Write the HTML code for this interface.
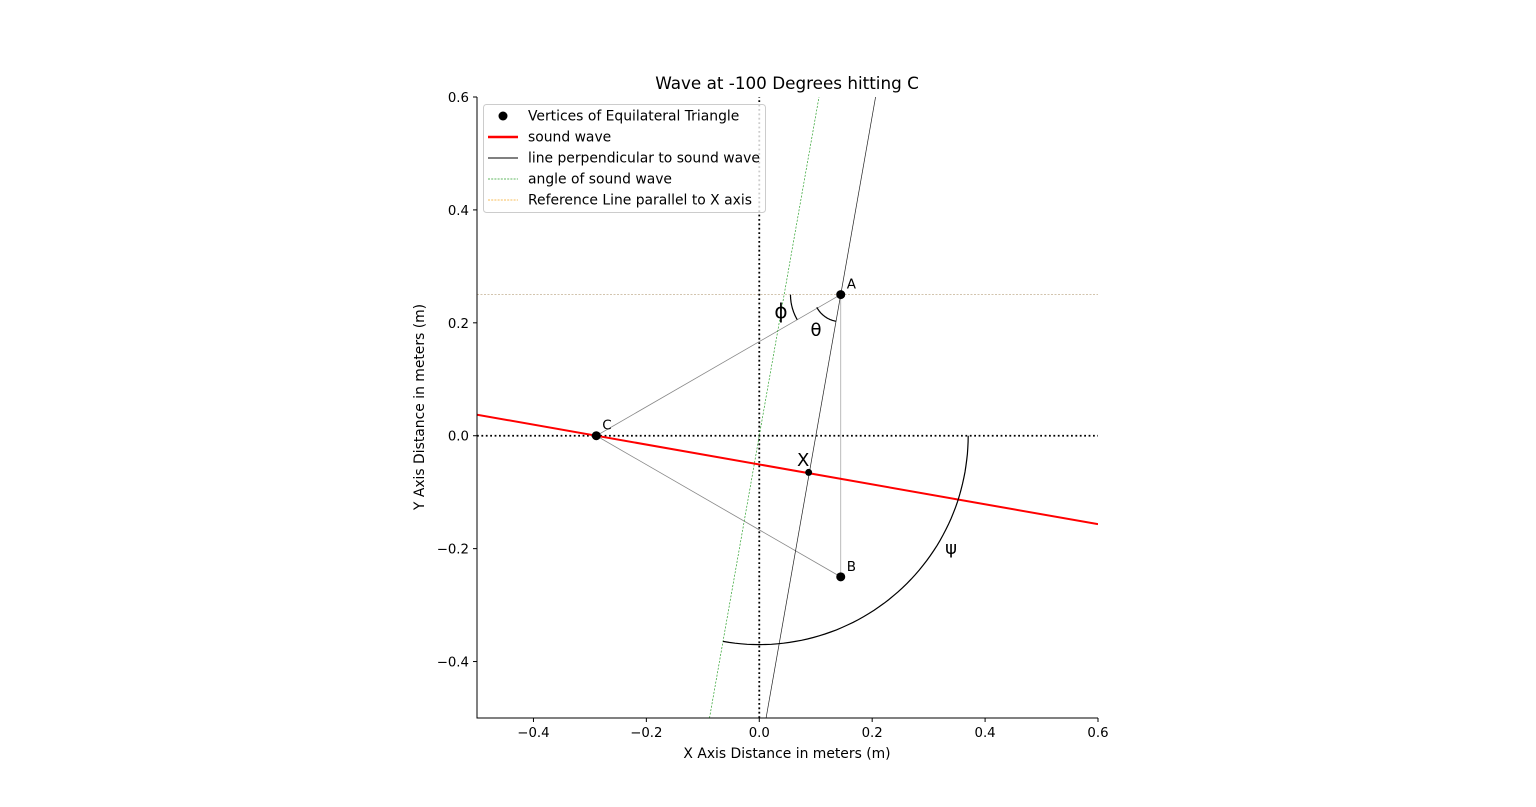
<!DOCTYPE html>
<html><head><meta charset="utf-8"><style>
body{margin:0;background:#fff;}
svg{display:block;font-family:"DejaVu Sans","Liberation Sans",sans-serif;}
</style></head><body>
<svg id="chart" width="1536" height="807">
</svg>
<script>
const xTicks=[-0.4,-0.2,0.0,0.2,0.4,0.6];
const yTicks=[-0.4,-0.2,0.0,0.2,0.4,0.6];
const vertexNames=["A","B","C"];
const vertexX=[0.1443,0.1443,-0.2887];
const vertexY=[0.25,-0.25,0];
const waveAngleDeg=[-10];
const intersectX=[0.0875];
const intersectY=[-0.065];
const psiRadius=[0.37];
const x0=477,x1=1098,y0=718,y1=97,xmin=-0.5,xmax=0.6,ymin=-0.5,ymax=0.6;
const sx=v=>x0+(v-xmin)/(xmax-xmin)*(x1-x0);
const sy=v=>y0-(v-ymin)/(ymax-ymin)*(y0-y1);
const svg=document.getElementById('chart');
const NS="http://www.w3.org/2000/svg";
function mk(tag,attrs,parent){const e=document.createElementNS(NS,tag);for(const k in attrs)e.setAttribute(k,attrs[k]);(parent||svg).appendChild(e);return e;}
const defs=mk('defs',{});const cp=mk('clipPath',{id:'c'},defs);mk('rect',{x:x0,y:y1,width:x1-x0,height:y0-y1},cp);
const g=mk('g',{'clip-path':'url(#c)'});


function line(xa,ya,xb,yb,st,name){const l=mk('line',Object.assign({x1:sx(xa),y1:sy(ya),x2:sx(xb),y2:sy(yb)},st),g);

return l;}
line(xmin,vertexY[0],xmax,vertexY[0],{stroke:'#f5a623','stroke-width':0.6,'stroke-dasharray':'2,1.5',opacity:0.6},'reference-line');
line(xmin,vertexY[0],xmax,vertexY[0],{stroke:'#aaa','stroke-width':0.5,'stroke-dasharray':'2,1.5'},'reference-line-gray');
line(0,ymin,0,ymax,{stroke:'#000','stroke-width':1.8,'stroke-dasharray':'1.8,2.6'},'y-zero-line');
line(xmin,0,xmax,0,{stroke:'#000','stroke-width':1.8,'stroke-dasharray':'1.8,2.6'},'x-zero-line');
line(vertexX[2],vertexY[2],vertexX[0],vertexY[0],{stroke:'#888','stroke-width':0.8},'triangle-edge-ca');
line(vertexX[2],vertexY[2],vertexX[1],vertexY[1],{stroke:'#888','stroke-width':0.8},'triangle-edge-cb');
line(vertexX[0],vertexY[0],vertexX[1],vertexY[1],{stroke:'#aaa','stroke-width':0.8},'triangle-edge-ab');
const t=Math.tan(waveAngleDeg[0]*Math.PI/180);
const ps=-1/t;
line(ymin/ps,ymin,ymax/ps,ymax,{stroke:'#2ca02c','stroke-width':0.7,'stroke-dasharray':'2,1.5'},'angle-of-sound-wave');
line(vertexX[0]+(ymin-vertexY[0])/ps,ymin,vertexX[0]+(ymax-vertexY[0])/ps,ymax,{stroke:'#222','stroke-width':0.7},'perpendicular-line');
line(xmin,t*(xmin-vertexX[2]),xmax,t*(xmax-vertexX[2]),{stroke:'#f00','stroke-width':2},'sound-wave');
function arc(cx,cy,r,a1,a2,name){const pr=r*(x1-x0)/(xmax-xmin);const p=[];for(let i=0;i<=60;i++){const a=(a1+(a2-a1)*i/60)*Math.PI/180;p.push((sx(cx)+pr*Math.cos(a)).toFixed(1)+','+(sy(cy)-pr*Math.sin(a)).toFixed(1));}
const e=mk('polyline',{points:p.join(' '),fill:'none',stroke:'#000','stroke-width':1.2},g);

}
arc(0,0,psiRadius[0],0,-100,'psi-arc');
arc(vertexX[0],vertexY[0],0.089,180,210,'phi-arc');
arc(vertexX[0],vertexY[0],0.048,208,260,'theta-arc');
for(let i=0;i<3;i++){const c=mk('circle',{cx:sx(vertexX[i]),cy:sy(vertexY[i]),r:4.5,fill:'#000'});


const tx=mk('text',{x:sx(vertexX[i])+6,y:sy(vertexY[i])-6,'font-size':13.5});tx.textContent=vertexNames[i];

}
const xp=mk('circle',{cx:sx(intersectX[0]),cy:sy(intersectY[0]),r:3.5,fill:'#000'});


function lbl(x,y,s,txt,name,anchor){const e=mk('text',{x:x,y:y,'font-size':s,'text-anchor':anchor||'start'});e.textContent=txt;

return e;}
lbl(797,466,18,'X','intersection-label');
lbl(781,318,20,'ϕ','phi-label','middle');
lbl(816,336,18,'θ','theta-label','middle');
lbl(951,554,18,'ψ','psi-label','middle');
const sp=mk('path',{d:`M${x0},${y1}V${y0}H${x1}`,fill:'none',stroke:'#000','stroke-width':1});


xTicks.forEach(v=>{mk('line',{x1:sx(v),x2:sx(v),y1:y0,y2:y0+4,stroke:'#000'});
lbl(sx(v),y0+19,13.3,(v<0?'\u2212':'')+Math.abs(v).toFixed(1),'x-tick-label','middle');});
yTicks.forEach(v=>{mk('line',{x1:x0-4,x2:x0,y1:sy(v),y2:sy(v),stroke:'#000'});
lbl(x0-8,sy(v)+5,13.3,(v<0?'\u2212':'')+Math.abs(v).toFixed(1),'y-tick-label','end');});
lbl(787,89,16.8,'Wave at -100 Degrees hitting C','chart-title','middle');
lbl(787,758,13.9,'X Axis Distance in meters (m)','x-axis-title','middle');
const yt=lbl(0,0,13.9,'Y Axis Distance in meters (m)','y-axis-title','middle');yt.setAttribute('transform','translate(424,407) rotate(-90)');
const lg=mk('g',{});


mk('rect',{x:483.5,y:104.5,width:282,height:108,rx:3,fill:'#fff','fill-opacity':0.8,stroke:'#ccc'},lg);
const items=[['Vertices of Equilateral Triangle','dot'],['sound wave','#f00',2.5,''],['line perpendicular to sound wave','#000',0.9,''],['angle of sound wave','#2ca02c',0.8,'2,1.2'],['Reference Line parallel to X axis','#f5a623',0.8,'2,1.2']];
items.forEach((it,i)=>{const y=116+i*21;
if(it[1]==='dot')mk('circle',{cx:503,cy:y,r:4.5,fill:'#000'},lg);
else mk('line',{x1:488,x2:518,y1:y,y2:y,stroke:it[1],'stroke-width':it[2],'stroke-dasharray':it[3]||'none'},lg);
const e=mk('text',{x:528,y:y+4.5,'font-size':13.9},lg);e.textContent=it[0];

});
</script>
</body></html>
